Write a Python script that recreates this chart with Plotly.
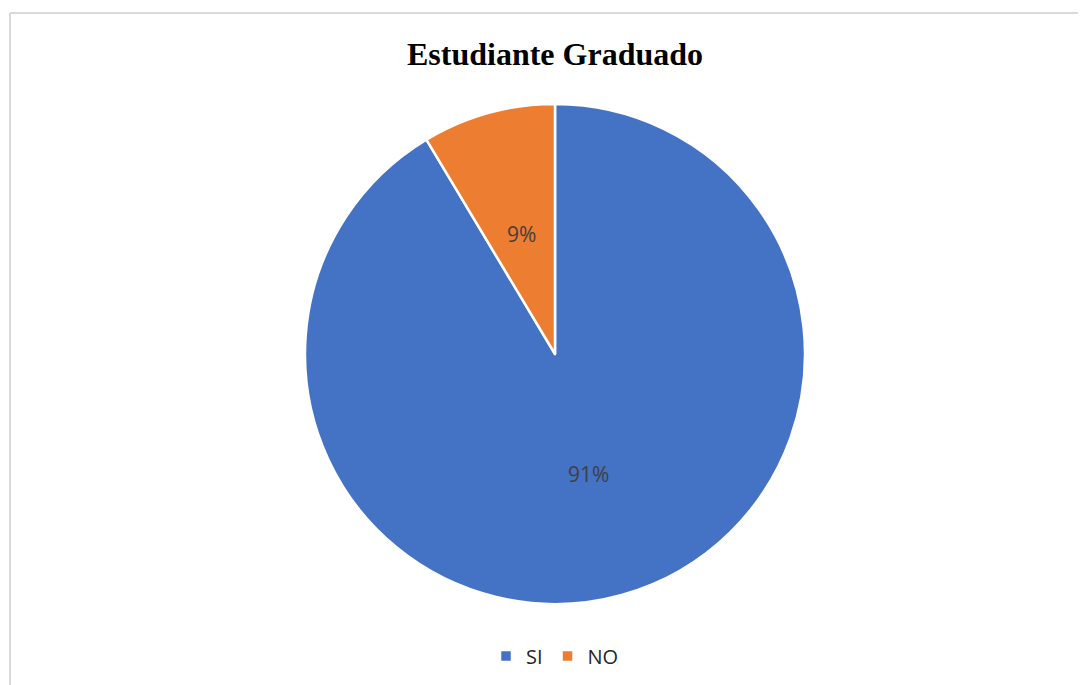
import math
import plotly.graph_objects as go

categories = ["SI", "NO"]
values = [91.4, 8.6]
colors = ["#4472C4", "#ED7D31"]
title_text = "Estudiante Graduado"

W, H = 1086, 685
OFF = 8  # page body offset
cx, cy, r = 555 - OFF, 354 - OFF, 250

fig = go.Figure(go.Pie(
    labels=categories,
    values=values,
    sort=False,
    direction="clockwise",
    rotation=0,
    marker=dict(colors=colors, line=dict(color="white", width=2.5)),
    textinfo="none",
    domain=dict(x=[(cx - r) / W, (cx + r) / W], y=[(H - cy - r) / H, (H - cy + r) / H]),
    hoverinfo="label+percent",
))

# data labels at half radius on each slice bisector (Excel style)
total = sum(values)
annotations = []
cum = 0
for v in values:
    theta = 2 * math.pi * (cum + v / 2) / total
    cum += v
    px = cx + 0.5 * r * math.sin(theta)
    py = cy - 0.5 * r * math.cos(theta)
    annotations.append(dict(
        x=px / W, y=1 - py / H, xref="paper", yref="paper",
        text=f"{round(100 * v / total)}%", showarrow=False,
        xanchor="center", yanchor="middle",
        font=dict(family="Open Sans, Lato, sans-serif", size=21, color="#404040"),
    ))

fig.update_layout(
    width=W, height=H,
    margin=dict(l=0, r=0, t=0, b=0),
    paper_bgcolor="white",
    plot_bgcolor="white",
    title=dict(text="<b>" + title_text + "</b>", x=cx / W, xanchor="center",
               y=1 - (54 - OFF) / H, yanchor="middle",
               font=dict(family="Liberation Serif, Times New Roman, serif", size=32, color="black")),
    legend=dict(orientation="h", x=cx / W, xanchor="center", y=1 - (656 - OFF) / H, yanchor="middle",
                font=dict(family="Open Sans, Lato, sans-serif", size=20, color="#262626"),
                itemwidth=30, traceorder="normal"),
    annotations=annotations,
    shapes=[
        dict(type="line", xref="paper", yref="paper", x0=(10 - OFF) / W, x1=(10 - OFF) / W, y0=0, y1=1 - (13 - OFF) / H,
             line=dict(color="#d9d9d9", width=2)),
        dict(type="line", xref="paper", yref="paper", x0=(10 - OFF) / W, x1=1, y0=1 - (13 - OFF) / H, y1=1 - (13 - OFF) / H,
             line=dict(color="#d9d9d9", width=2)),
    ],
)

fig.write_html("out.html")
